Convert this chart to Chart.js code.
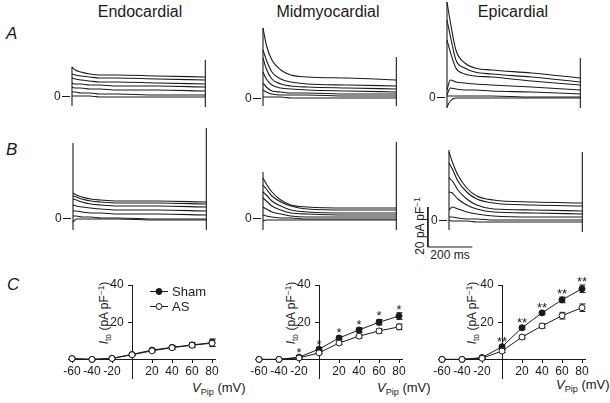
<!DOCTYPE html>
<html>
<head>
<meta charset="utf-8">
<script src="https://cdn.jsdelivr.net/npm/chart.js@4.4.1/dist/chart.umd.min.js"></script>
<style>
html, body { margin: 0; padding: 0; background: #fff; }
#fig { position: relative; width: 610px; height: 403px; overflow: hidden;
       font-family: "Liberation Sans", Arial, sans-serif; color: #1a1a1a; }
#fig canvas { position: absolute; }
.t { position: absolute; white-space: nowrap; line-height: 1; }
.title { font-size: 16px; transform: translateX(-50%); }
.row { font-size: 17px; font-style: italic; }
.rot { font-size: 12px; transform: translate(-50%, -50%) rotate(-90deg); }
.xt { font-size: 13px; }
sub { font-size: 70%; position: relative; top: 0.3em; vertical-align: baseline; }
sup { font-size: 70%; position: relative; top: -0.45em; vertical-align: baseline; }
</style>
</head>
<body>
<div id="fig">
  <div class="t title" style="left:140px;top:4px">Endocardial</div>
  <div class="t title" style="left:328px;top:4px">Midmyocardial</div>
  <div class="t title" style="left:513px;top:4px">Epicardial</div>
  <div class="t row" style="left:6px;top:25px">A</div>
  <div class="t row" style="left:6px;top:141px">B</div>
  <div class="t row" style="left:7px;top:276px">C</div>

  <div class="t rot" style="left:420px;top:226px">20 pA pF<sup>−1</sup></div>
  <div class="t" style="left:450px;top:249px;font-size:12px;transform:translateX(-50%)">200 ms</div>

  <div class="t rot" style="left:104px;top:313px"><i>I</i><sub>to</sub> (pA pF<sup>−1</sup>)</div>
  <div class="t rot" style="left:291px;top:313px"><i>I</i><sub>to</sub> (pA pF<sup>−1</sup>)</div>
  <div class="t rot" style="left:472px;top:313px"><i>I</i><sub>to</sub> (pA pF<sup>−1</sup>)</div>
  <div class="t xt" style="left:192px;top:381px"><i>V</i><sub>Pip</sub> (mV)</div>
  <div class="t xt" style="left:377px;top:381px"><i>V</i><sub>Pip</sub> (mV)</div>
  <div class="t xt" style="left:556px;top:378px"><i>V</i><sub>Pip</sub> (mV)</div>
</div>
<script>
// ---- current traces (pA/pF) sampled at these times (ms) ----
const tTrace = [0, 15, 40, 80, 125, 200, 380, 600];
const tEnd = 600;

const endoA = [
  [15, 13.5, 12.5, 11.5, 11, 11, 10.5, 10],
  [11.5, 11, 10.5, 10, 9.5, 9.5, 9, 8.5],
  [9.5, 9, 8.5, 8, 7.5, 7.5, 7, 6.5],
  [7, 6.5, 6.5, 6, 6, 5.5, 5.5, 5],
  [5, 4.5, 4.5, 4, 4, 3.5, 3.5, 3],
  [2.5, 2.5, 2, 2, 1.5, 1.5, 1, 1],
  [0.5, 0.5, 0.5, 0.5, 0, 0, 0, 0]
];
const midA = [
  [35.5, 27, 19.5, 14.5, 12, 11, 10.5, 9.5],
  [24.5, 19.5, 13.5, 10, 8.5, 7.5, 7, 6.5],
  [20.5, 15, 10, 7.5, 6.5, 6, 5.5, 5],
  [13.5, 10, 7, 5.5, 5, 4.5, 4, 3.5],
  [8, 6, 4, 3.5, 3, 3, 2.5, 2.5],
  [4.5, 3.5, 2.5, 2, 2, 2, 1.5, 1.5],
  [1, 1, 1, 1, 0.5, 0.5, 0.5, 0.5]
];
const epiA = [
  [48, 38, 24, 17.5, 15, 14, 12.5, 10],
  [39, 31, 19, 15, 13, 12, 10.5, 8],
  [29, 23, 15, 12, 11, 10.5, 8.5, 6.5],
  [4, 9, 8, 7.5, 7, 6.5, 5.5, 4],
  [1.5, 5, 4.5, 4, 4, 3.5, 3, 2],
  [1, 1, 1, 1, 1, 1, 0.5, 0.5],
  [-4.5, -1.5, 0, 0, 0, 0, 0, 0]
];
const endoB = [
  [13, 12, 11, 10, 9.5, 9, 9, 8.5],
  [11.5, 11, 10, 9, 8.5, 8, 8, 7.5],
  [10, 9.5, 8.5, 7.5, 7, 6.5, 6.5, 6],
  [7, 6.5, 6, 5.5, 5, 4.5, 4.5, 4],
  [4, 4, 3.5, 3, 3, 2.5, 2.5, 2],
  [1.5, 1.5, 1, 1, 0.5, 0.5, 0, 0],
  [-1.5, 0, 0, 0, 0, 0, -0.5, -0.5]
];
const midB = [
  [20.5, 17.5, 13.5, 9.5, 7, 6, 5.5, 5.5],
  [17, 15, 11.5, 8.5, 6.5, 5, 4.5, 4.5],
  [13.5, 12, 9, 6.5, 4.5, 3.5, 3, 3],
  [10.5, 9, 6.5, 4.5, 3, 2.5, 2, 2],
  [6, 5, 3.5, 2.5, 1.5, 1, 1, 1],
  [2, 1.5, 1, 0.5, 0.5, 0, 0, 0],
  [-1, -0.5, -0.5, -0.5, -0.5, -0.5, -0.5, -0.5]
];
const epiB = [
  [34.5, 29.5, 23, 16.5, 12.5, 10.5, 9.5, 9],
  [29, 26, 20, 14.5, 11, 9, 8, 7.5],
  [21.5, 20, 15.5, 11, 8, 6, 5.5, 5],
  [14.5, 14, 11, 8, 6, 4.5, 4, 3.5],
  [5.5, 7, 6, 4.5, 3.5, 2.5, 2, 2],
  [2, 2, 1.5, 1, 1, 0.5, 0.5, 0.5],
  [0.5, 0, 0, 0, -0.5, -0.5, -0.5, -0.5]
];
// capacitive transients at pulse on / off: [top, bottom]
const endoAEdge = [[15, -4.5], [18.5, -5]];
const midAEdge  = [[35.5, -3.5], [21, -3.5]];
const epiAEdge  = [[48, -5], [20, -5]];
const endoBEdge = [[38, -5.5], [45.5, -5.5]];
const midBEdge  = [[23.5, -5.5], [38.5, -5.5]];
const epiBEdge  = [[35.5, -4.5], [34.5, -5.5]];
const barI = 20, barT = 200;

// ---- I-V relations ----
const vPip = [-60, -40, -20, 0, 20, 40, 60, 80];
const vTicks = [-60, -40, -20, 20, 40, 60, 80];
const iTicks = [20, 40];
const endoSham = [0.4, 0, 0.6, 2.7, 5, 6.5, 7.8, 9];
const endoAS   = [0.4, 0, 0.5, 2.5, 4.6, 6.3, 7.6, 8.7];
const endoShamErr = [0.3, 0.3, 0.3, 0.5, 0.8, 1, 1.3, 2];
const endoASErr   = [0.3, 0.3, 0.3, 0.5, 0.7, 0.9, 1.2, 1.8];
const midSham = [0, 0, 1.2, 5.5, 11.5, 15.8, 20, 23.3];
const midAS   = [0, 0, 0.8, 3.5, 8.8, 12.5, 15.3, 17.5];
const midShamErr = [0.2, 0.2, 0.5, 0.8, 1, 1.3, 1.5, 1.8];
const midASErr   = [0.2, 0.2, 0.4, 0.6, 0.8, 1, 1.2, 1.5];
const epiSham = [0, 0, 1, 6.8, 17, 25, 32, 38];
const epiAS   = [0, 0, 0.6, 4.5, 12, 18, 23.5, 27.8];
const epiShamErr = [0.2, 0.2, 0.5, 1, 1, 1, 1.5, 2];
const epiASErr   = [0.2, 0.2, 0.4, 0.8, 1, 1.2, 1.8, 2];
const midStars = ['', '', '*', '*', '*', '*', '*', '*'];
const epiStars = ['', '', '', '**', '**', '**', '**', '**'];

const INK = '#1a1a1a';
const FONT = '"Liberation Sans", Arial, sans-serif';
const fig = document.getElementById('fig');

function addCanvas(left, top, w, h) {
  const cv = document.createElement('canvas');
  cv.width = w; cv.height = h;
  cv.style.left = left + 'px'; cv.style.top = top + 'px';
  cv.style.width = w + 'px'; cv.style.height = h + 'px';
  fig.appendChild(cv);
  return cv;
}

function traceChart(left, zero, traces, edges, withBar) {
  // 4.5 ms and 0.5 pA/pF per pixel
  const cv = addCanvas(left - 24, zero - 110, 162, 150);
  const line = (pts) => ({
    data: pts, borderColor: INK, borderWidth: 1.1, pointRadius: 0,
    cubicInterpolationMode: 'monotone', clip: false
  });
  const ds = traces.map(tr => line(tTrace.map((t, i) => ({x: t, y: tr[i]}))));
  ds.push(line([{x: 0, y: edges[0][0]}, {x: 0, y: edges[0][1]}]));
  ds.push(line([{x: tEnd, y: edges[1][0]}, {x: tEnd, y: edges[1][1]}]));
  if (withBar) {
    const b = line([{x: -95, y: -13 + barI}, {x: -95, y: -13}, {x: -95 + barT, y: -13}]);
    b.cubicInterpolationMode = 'default'; b.tension = 0; b.borderWidth = 1;
    ds.push(b);
  }
  return new Chart(cv, {
    type: 'line',
    data: {datasets: ds},
    options: {
      responsive: false, animation: false, devicePixelRatio: 1,
      layout: {padding: {top: 10, bottom: 10, left: 0, right: 0}},
      plugins: {legend: {display: false}, tooltip: {enabled: false}},
      scales: {
        x: {type: 'linear', display: false, min: -108, max: 621},
        y: {
          min: -15, max: 50, position: {x: -9},
          afterBuildTicks: s => { s.ticks = [{value: 0}]; },
          border: {display: false},
          grid: {drawOnChartArea: false, color: INK, tickLength: 8, lineWidth: 1},
          // labels of value-positioned axes sit on the axis line, so pad with spaces
          ticks: {color: INK, padding: 1, font: {family: FONT, size: 12},
                  callback: v => v + '\u2002 '}
        }
      }
    }
  });
}

const ivDeco = {
  id: 'ivDeco',
  beforeDatasetsDraw(chart) {
    const ctx = chart.ctx, ys = chart.scales.y;
    ctx.save();
    ctx.strokeStyle = INK; ctx.lineWidth = 1;
    chart.data.datasets.forEach((d, i) => {
      const meta = chart.getDatasetMeta(i);
      d.err.forEach((e, j) => {
        const x = Math.round(meta.data[j].x) + 0.5;
        const y1 = ys.getPixelForValue(d.data[j].y + e);
        const y2 = ys.getPixelForValue(d.data[j].y - e);
        ctx.beginPath();
        ctx.moveTo(x, y1); ctx.lineTo(x, y2);
        ctx.moveTo(x - 3, y1); ctx.lineTo(x + 3, y1);
        ctx.moveTo(x - 3, y2); ctx.lineTo(x + 3, y2);
        ctx.stroke();
      });
    });
    ctx.restore();
  },
  afterDatasetsDraw(chart) {
    const o = chart.config.options.plugins.ivDeco || {};
    const ctx = chart.ctx, ys = chart.scales.y;
    ctx.save();
    ctx.fillStyle = INK; ctx.strokeStyle = INK; ctx.lineWidth = 1;
    if (o.stars) {
      const d = chart.data.datasets[1];
      const meta = chart.getDatasetMeta(1);
      ctx.font = '13px ' + FONT;
      ctx.textAlign = 'center'; ctx.textBaseline = 'alphabetic';
      o.stars.forEach((s, j) => {
        if (!s) return;
        const y = ys.getPixelForValue(d.data[j].y + d.err[j]);
        ctx.fillText(s, meta.data[j].x, y + 1);
      });
    }
    if (o.legend) {
      const ca = chart.chartArea;
      const lx = ca.left + 82, ly = ca.top + 6;
      ['Sham', 'AS'].forEach((name, k) => {
        const y = ly + k * 15 + 0.5;
        ctx.beginPath(); ctx.moveTo(lx, y); ctx.lineTo(lx + 18, y); ctx.stroke();
        ctx.beginPath(); ctx.arc(lx + 9, y, 3, 0, Math.PI * 2);
        ctx.fillStyle = k === 0 ? INK : '#fff'; ctx.fill(); ctx.stroke();
        ctx.fillStyle = INK;
        ctx.font = '13px ' + FONT; ctx.textAlign = 'left'; ctx.textBaseline = 'middle';
        ctx.fillText(name, lx + 22, y + 1);
      });
    }
    ctx.restore();
  }
};

function ivChart(x0, sham, as, shamErr, asErr, stars, legend) {
  // chart area: V from -64 to 83 mV over 147 px, I from -10 to 40 over 93 px
  const cv = addCanvas(x0 - 104, 270, 217, 143);
  const ser = (vals, err, fill) => ({
    data: vPip.map((v, i) => ({x: v, y: vals[i]})), err: err,
    borderColor: INK, borderWidth: 1, tension: 0, clip: false,
    pointRadius: 3, pointBorderWidth: 1, pointBorderColor: INK,
    pointBackgroundColor: fill
  });
  return new Chart(cv, {
    type: 'line',
    data: {datasets: [ser(as, asErr, '#fff'), ser(sham, shamErr, INK)]},
    plugins: [ivDeco],
    options: {
      responsive: false, animation: false, devicePixelRatio: 1,
      layout: {padding: {left: 40, right: 30, top: 15, bottom: 35}},
      plugins: {legend: {display: false}, tooltip: {enabled: false},
                ivDeco: {stars: stars, legend: legend}},
      scales: {
        x: {
          type: 'linear', min: -64, max: 83, position: {y: 0},
          afterBuildTicks: s => { s.ticks = vTicks.map(v => ({value: v})); },
          border: {color: INK},
          grid: {drawOnChartArea: false, color: INK, tickLength: 3},
          ticks: {color: INK, padding: 2, maxRotation: 0, font: {family: FONT, size: 12}}
        },
        y: {
          min: -10, max: 40, position: {x: 0},
          afterBuildTicks: s => { s.ticks = iTicks.map(v => ({value: v})); },
          border: {color: INK},
          grid: {drawOnChartArea: false, color: INK, tickLength: 4},
          ticks: {color: INK, padding: 1, font: {family: FONT, size: 12},
                  callback: v => v + '\u2002\u2009'}
        }
      }
    }
  });
}

traceChart(72, 97, endoA, endoAEdge, false);
traceChart(263, 99, midA, midAEdge, false);
traceChart(447, 98, epiA, epiAEdge, false);
traceChart(73, 219, endoB, endoBEdge, false);
traceChart(263, 219, midB, midBEdge, false);
traceChart(449, 221, epiB, epiBEdge, true);

ivChart(132, endoSham, endoAS, endoShamErr, endoASErr, null, true);
ivChart(319, midSham, midAS, midShamErr, midASErr, midStars, false);
ivChart(502, epiSham, epiAS, epiShamErr, epiASErr, epiStars, false);
</script>
</body>
</html>
